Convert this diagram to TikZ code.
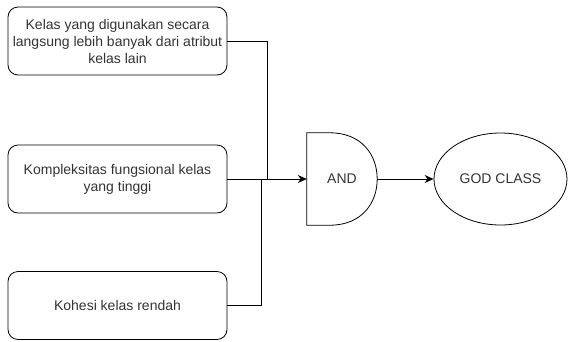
\documentclass[tikz,border=0pt]{standalone}
\usepackage{fontspec}
\setmainfont{Liberation Sans}
\usetikzlibrary{arrows.meta,shapes.geometric,calc}
\definecolor{txt}{HTML}{333333}
\begin{document}
\begin{tikzpicture}[x=1pt,y=-1pt,
  lw/.style={line width=0.8pt},
  critbox/.style={lw,draw,rounded corners=10pt,minimum width=219pt,minimum height=68pt,
    align=center,inner sep=0pt,font=\fontsize{14}{17}\selectfont,text=txt},
  lbl/.style={font=\fontsize{14}{17}\selectfont,text=txt,inner sep=0pt},
  conn/.style={lw,draw=black},
  arr/.style={conn,-{Stealth[length=9pt,width=8pt]}}]
\useasboundingbox (0,0) rectangle (571,341);
\node[critbox] (b1) at (117.5,41) {Kelas yang digunakan secara\\langsung lebih banyak dari atribut\\kelas lain};
\node[critbox] (b2) at (117.5,179) {Kompleksitas fungsional kelas\\yang tinggi};
\node[critbox] (b3) at (117.5,305.5) {Kohesi kelas rendah};
\node[lbl,minimum width=70pt,minimum height=92pt] (and) at (342,179) {AND};
\draw[lw] (and.north west) -- ([xshift=23pt]and.north west)
  .. controls ([xshift=55pt]and.north west) and ([yshift=24pt]and.east) .. (and.east)
  .. controls ([yshift=-24pt]and.east) and ([xshift=55pt]and.south west) .. ([xshift=23pt]and.south west)
  -- (and.south west) -- cycle;
\node[lbl,ellipse,draw=black,lw,minimum width=133pt,minimum height=92pt] (god) at (500.5,179) {GOD CLASS};
\coordinate (j1) at (267,179);
\coordinate (j3) at (261,179);
\draw[conn] (b1.east) -| (j1);
\draw[conn] (b3.east) -| (j3);
\draw[arr] (b2.east) -- (and.west);
\draw[arr] (and.east) -- (god.west);
\end{tikzpicture}
\end{document}
